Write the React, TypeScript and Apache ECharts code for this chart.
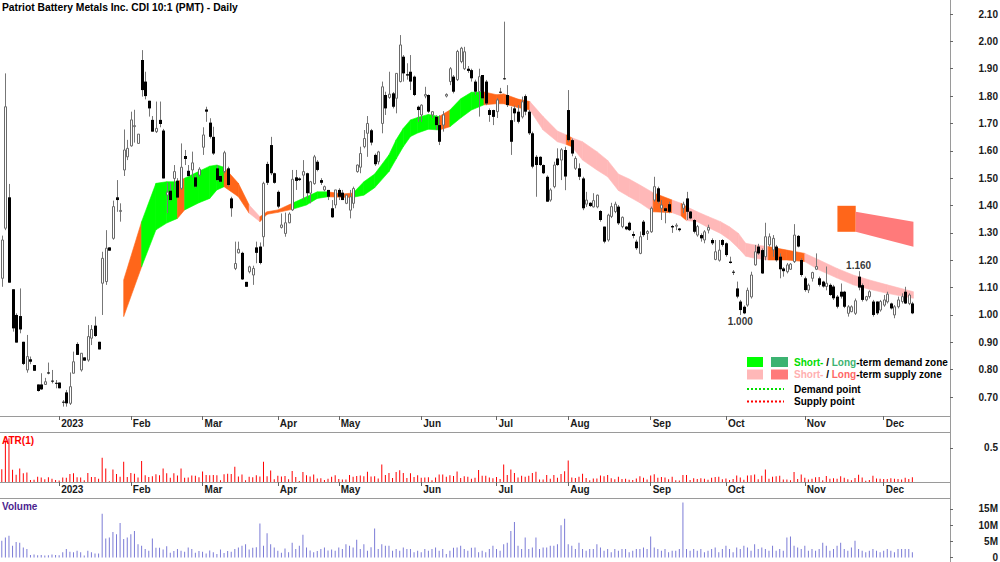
import React, { useEffect, useRef } from 'react';
import * as echarts from 'echarts';

const TITLE = 'Patriot Battery Metals Inc. CDI 10:1 (PMT) - Daily';
const FONT = "'Liberation Sans', Arial, Helvetica, sans-serif";

// daily candles: [open, high, low, close]
const candles: number[][] = [
  [1.134,1.29,1.103,1.274],[1.317,1.883,1.31,1.761],[1.43,1.479,1.118,1.118],[1.094,1.094,0.939,0.951],[1.0,1.006,0.899,0.899],
  [0.996,1.097,0.933,0.947],[0.902,0.902,0.817,0.821],[0.799,0.927,0.789,0.848],[0.838,0.848,0.82,0.829],[0.817,0.817,0.796,0.796],
  [0.746,0.746,0.72,0.722],[0.746,0.787,0.726,0.728],[0.746,0.77,0.744,0.756],[0.79,0.826,0.783,0.786],[0.76,0.799,0.75,0.757],
  [0.752,0.762,0.732,0.75],[0.753,0.753,0.732,0.732],[0.683,0.689,0.665,0.681],[0.717,0.726,0.665,0.677],[0.677,0.79,0.671,0.738],
  [0.787,0.866,0.787,0.829],[0.894,0.9,0.854,0.854],[0.799,0.86,0.793,0.86],[0.845,0.845,0.833,0.833],[0.835,0.963,0.829,0.921],
  [0.915,0.963,0.89,0.947],[0.961,0.994,0.92,0.923],[0.902,0.902,0.874,0.874],[1.116,1.231,1.0,1.207],[1.122,1.31,1.11,1.244],
  [1.247,1.247,1.235,1.235],[1.28,1.418,1.275,1.396],[1.43,1.493,1.377,1.42],[1.381,1.408,1.341,1.382],[1.53,1.678,1.508,1.603],
  [1.578,1.64,1.566,1.609],[1.618,1.743,1.615,1.713],[1.69,1.75,1.63,1.692],[1.627,1.661,1.627,1.661],[1.932,1.968,1.798,1.822],
  [1.853,1.889,1.788,1.8],[1.783,1.783,1.725,1.755],[1.713,1.727,1.67,1.67],[1.67,1.78,1.665,1.682],[1.713,1.78,1.686,1.698],
  [1.674,1.68,1.499,1.499],[1.438,1.484,1.372,1.449],[1.454,1.481,1.418,1.42],[1.499,1.548,1.457,1.524],[1.491,1.5,1.427,1.429],
  [1.463,1.627,1.457,1.54],[1.581,1.603,1.548,1.57],[1.527,1.548,1.505,1.508],[1.53,1.597,1.503,1.556],[1.503,1.51,1.465,1.469],
  [1.511,1.54,1.505,1.533],[1.613,1.686,1.585,1.658],[1.751,1.761,1.706,1.743],[1.703,1.719,1.645,1.651],[1.651,1.688,1.585,1.59],
  [1.536,1.548,1.49,1.493],[1.508,1.51,1.485,1.487],[1.524,1.6,1.518,1.593],[1.536,1.542,1.47,1.475],[1.426,1.432,1.359,1.39],
  [1.17,1.268,1.164,1.188],[1.227,1.268,1.225,1.24],[1.227,1.231,1.128,1.13],[1.121,1.121,1.103,1.103],[1.158,1.18,1.152,1.176],
  [1.146,1.18,1.11,1.17],[1.247,1.268,1.189,1.227],[1.25,1.265,1.185,1.19],[1.286,1.487,1.25,1.481],[1.552,1.56,1.475,1.483],
  [1.621,1.651,1.511,1.518],[1.518,1.52,1.48,1.483],[1.45,1.455,1.39,1.396],[1.32,1.371,1.316,1.329],[1.298,1.374,1.286,1.337],
  [1.337,1.375,1.335,1.369],[1.384,1.53,1.38,1.496],[1.503,1.53,1.457,1.49],[1.499,1.503,1.49,1.493],[1.511,1.566,1.42,1.524],
  [1.518,1.52,1.426,1.445],[1.445,1.49,1.408,1.487],[1.48,1.585,1.476,1.578],[1.56,1.566,1.525,1.53],[1.493,1.5,1.475,1.483],
  [1.457,1.473,1.452,1.469],[1.457,1.457,1.42,1.432],[1.39,1.42,1.355,1.357],[1.402,1.457,1.39,1.457],[1.457,1.463,1.42,1.432],
  [1.447,1.457,1.42,1.42],[1.408,1.44,1.405,1.438],[1.383,1.457,1.353,1.432],[1.408,1.469,1.39,1.462],[1.524,1.55,1.52,1.548],
  [1.54,1.615,1.518,1.59],[1.615,1.676,1.609,1.645],[1.664,1.727,1.578,1.7],[1.675,1.68,1.62,1.63],[1.585,1.59,1.545,1.551],
  [1.56,1.6,1.55,1.596],[1.7,1.853,1.664,1.834],[1.804,1.816,1.731,1.755],[1.795,1.889,1.79,1.807],[1.81,1.815,1.755,1.761],
  [1.792,1.883,1.737,1.883],[1.853,2.023,1.85,1.987],[1.944,1.95,1.853,1.883],[1.88,1.92,1.86,1.875],[1.889,1.95,1.822,1.853],
  [1.871,1.875,1.8,1.804],[1.761,1.765,1.706,1.749],[1.731,1.77,1.706,1.767],[1.8,1.834,1.792,1.806],[1.804,1.806,1.738,1.743],
  [1.731,1.745,1.72,1.743],[1.724,1.73,1.676,1.694],[1.694,1.73,1.621,1.633],[1.694,1.745,1.67,1.731],[1.8,1.81,1.795,1.806],
  [1.853,1.906,1.84,1.9],[1.871,1.877,1.81,1.816],[1.86,1.969,1.855,1.963],[1.926,1.98,1.92,1.975],[1.9,1.98,1.895,1.962],
  [1.9,1.91,1.885,1.892],[1.895,1.9,1.853,1.865],[1.853,1.86,1.804,1.816],[1.816,1.9,1.725,1.871],[1.877,1.877,1.786,1.792],
  [1.853,1.859,1.767,1.773],[1.749,1.755,1.706,1.731],[1.749,1.75,1.694,1.724],[1.743,1.792,1.72,1.786],[1.816,1.83,1.81,1.813],
  [1.865,2.072,1.86,1.863],[1.804,1.84,1.76,1.767],[1.712,1.761,1.585,1.633],[1.755,1.765,1.706,1.737],[1.743,1.767,1.7,1.706],
  [1.724,1.798,1.718,1.779],[1.8,1.806,1.73,1.743],[1.743,1.749,1.658,1.664],[1.664,1.67,1.536,1.542],[1.578,1.584,1.432,1.548],
  [1.578,1.58,1.545,1.548],[1.548,1.55,1.515,1.518],[1.505,1.51,1.414,1.414],[1.42,1.463,1.414,1.457],[1.469,1.56,1.463,1.548],
  [1.572,1.609,1.545,1.548],[1.566,1.61,1.493,1.604],[1.603,1.615,1.456,1.506],[1.749,1.822,1.633,1.639],[1.639,1.645,1.58,1.59],
  [1.536,1.58,1.53,1.572],[1.536,1.554,1.493,1.505],[1.499,1.505,1.383,1.39],[1.405,1.45,1.395,1.42],[1.41,1.412,1.395,1.398],
  [1.395,1.445,1.393,1.418],[1.395,1.44,1.39,1.438],[1.38,1.383,1.341,1.347],[1.323,1.323,1.262,1.268],[1.274,1.37,1.268,1.365],
  [1.36,1.41,1.354,1.396],[1.378,1.414,1.372,1.405],[1.396,1.402,1.329,1.335],[1.323,1.36,1.317,1.357],[1.323,1.325,1.31,1.313],
  [1.337,1.341,1.307,1.31],[1.296,1.305,1.28,1.289],[1.268,1.275,1.238,1.244],[1.225,1.305,1.222,1.286],[1.341,1.347,1.286,1.292],
  [1.298,1.31,1.274,1.305],[1.304,1.396,1.3,1.39],[1.42,1.505,1.414,1.469],[1.463,1.469,1.408,1.414],[1.39,1.42,1.347,1.402],
  [1.39,1.393,1.335,1.38],[1.405,1.414,1.372,1.377],[1.325,1.329,1.3,1.32],[1.327,1.335,1.31,1.328],[1.316,1.318,1.305,1.31],
  [1.39,1.414,1.372,1.405],[1.426,1.45,1.347,1.377],[1.378,1.38,1.35,1.353],[1.347,1.35,1.298,1.304],[1.292,1.329,1.286,1.323],
  [1.292,1.298,1.268,1.28],[1.274,1.31,1.262,1.304],[1.31,1.33,1.298,1.32],[1.274,1.28,1.256,1.262],[1.203,1.274,1.2,1.231],
  [1.2,1.274,1.195,1.237],[1.274,1.277,1.25,1.256],[1.262,1.265,1.213,1.219],[1.195,1.213,1.188,1.19],[1.158,1.164,1.146,1.155],
  [1.097,1.122,1.061,1.067],[1.049,1.055,1.0,1.018],[1.03,1.035,1.003,1.006],[1.036,1.1,1.03,1.09],[1.066,1.158,1.06,1.146],
  [1.183,1.256,1.18,1.231],[1.25,1.26,1.22,1.225],[1.237,1.243,1.15,1.152],[1.213,1.337,1.2,1.286],[1.256,1.298,1.25,1.286],
  [1.238,1.292,1.213,1.28],[1.25,1.256,1.195,1.2],[1.213,1.225,1.134,1.167],[1.17,1.175,1.14,1.16],[1.158,1.19,1.152,1.183],
  [1.167,1.19,1.165,1.186],[1.195,1.332,1.19,1.292],[1.289,1.292,1.247,1.25],[1.201,1.207,1.14,1.146],[1.134,1.14,1.085,1.091],
  [1.091,1.115,1.08,1.109],[1.134,1.158,1.122,1.155],[1.167,1.225,1.164,1.177],[1.134,1.14,1.104,1.11],[1.122,1.125,1.1,1.104],
  [1.104,1.177,1.09,1.116],[1.11,1.115,1.07,1.073],[1.104,1.11,1.055,1.061],[1.067,1.073,1.024,1.03],[1.085,1.115,1.06,1.067],
  [1.085,1.088,1.025,1.03],[1.006,1.036,0.994,1.03],[1.012,1.035,1.01,1.03],[1.006,1.06,1.0,1.052],[1.14,1.16,1.09,1.1],
  [1.109,1.115,1.049,1.055],[1.055,1.07,1.05,1.067],[1.067,1.09,1.06,1.085],[1.049,1.055,0.994,1.0],[1.049,1.05,1.0,1.006],
  [1.018,1.055,1.012,1.049],[1.036,1.073,1.03,1.055],[1.048,1.085,1.042,1.076],[1.042,1.045,1.02,1.024],[1.0,1.036,0.988,1.03],
  [1.03,1.067,1.024,1.055],[1.049,1.079,1.042,1.067],[1.085,1.103,1.04,1.042],[1.042,1.079,1.036,1.073],[1.042,1.048,1.003,1.006],
];

// daily volume, millions of shares
const volumeM: number[] = [
  5.2,6.2,6.7,3.6,4.8,4.6,3.1,2.6,0.8,0.9,0.7,0.8,0.6,0.7,0.9,0.8,
  0.7,1.6,2.6,1.8,1.6,2.1,1.6,0.6,2.1,1.6,1.2,1.2,
  13.5,5.9,6.2,7.9,7.2,10.7,5.7,6.2,7.2,8.2,4.1,3.6,2.6,
  2.1,5.9,3,3,2.5,3.5,1.5,2,2.6,2.1,1.8,3.1,2.6,1.5,2,1.8,1.2,2.2,1.6,1.1,
  2.5,1.4,2,1.8,2.6,3.1,3.6,4.1,2.5,3,3.2,10.5,3.6,7.5,4.1,3.1,2.1,1.5,2.8,1.6,
  4.6,2.6,3.6,7,3.1,2.2,1.6,2,2.6,3.1,2.2,2.5,2.1,3.1,2.6,4.1,3.6,3.1,5.5,2.6,
  4.1,2.1,3.2,9,2.6,4.1,3.6,3.6,2.1,2.6,2.1,3.1,2.6,2.6,1.6,2.1,1.6,2.6,2.1,2.6,
  3.1,2.1,2.6,1.1,2.1,3,3.1,3.6,2.6,2.1,3,3.1,1.6,2.1,1.6,2.6,3.6,2.6,2.1,4.1,
  4.6,8.2,11,3.6,2.6,6.2,2.6,3.1,6.2,2.6,3.1,3.1,3.6,3.6,4.1,10,12,4.1,3.6,2.6,
  4.6,2.6,2.1,2.6,2.6,4.1,3.1,2.1,2.6,1.6,2.6,2.1,2.6,2.6,1.6,2.1,2.6,2.6,3.1,2.6,
  6.5,3.1,2.6,2.1,2.6,1.6,2.1,2.1,2.6,17,2.6,2.1,2.6,2.1,2.6,1.6,2.1,2.6,3.1,1.6,
  2.6,3.6,2.6,1.6,3.1,2.6,3.6,3.1,2.1,4.1,2.6,3.1,2.6,2.1,3.6,2.1,2.6,2.1,6.2,6.5,
  3.6,3.1,2.6,3.6,2.1,2.6,2.1,2.6,4.6,3.6,2.1,2.6,3.6,4.6,2.6,2.1,3.1,5.2,2.6,2.1,
  1.6,2.1,2.6,2.1,1.6,2.1,2.6,2.1,1.6,2.6,2.6,2.6,2.6,1.6,
];

const monthTickIndex = [16, 36, 56, 77, 94, 117, 138, 158, 181, 202, 224, 246];
const monthTickLabel = ['2023', 'Feb', 'Mar', 'Apr', 'May', 'Jun', 'Jul', 'Aug', 'Sep', 'Oct', 'Nov', 'Dec'];
const priceTicks = [0.7, 0.8, 0.9, 1.0, 1.1, 1.2, 1.3, 1.4, 1.5, 1.6, 1.7, 1.8, 1.9, 2.0, 2.1];
const atrTicks = [0.5];
const volumeTicks = [0, 5, 10, 15];

// zone band: [index, lower, upper, kind of the following segment]
// G = short-term demand, O = orange transition, P = short-term supply
const zoneBand: (number | string)[][] = [
  [34, 0.994, 1.128, 'O'], [39, 1.176, 1.341, 'G'], [43, 1.311, 1.481, 'G'], [46, 1.336, 1.487, 'G'],
  [49, 1.353, 1.487, 'O'], [51, 1.384, 1.5, 'G'], [55, 1.41, 1.525, 'G'], [58, 1.426, 1.544, 'G'],
  [60, 1.457, 1.548, 'G'], [62, 1.469, 1.54, 'O'], [66, 1.432, 1.481, 'O'], [69, 1.372, 1.402, 'P'],
  [72, 1.341, 1.359, 'O'], [74, 1.368, 1.377, 'O'], [77, 1.375, 1.384, 'O'], [81, 1.386, 1.408, 'G'],
  [85, 1.402, 1.432, 'G'], [88, 1.426, 1.45, 'G'], [91, 1.432, 1.45, 'O'], [95, 1.43, 1.442, 'O'],
  [98, 1.43, 1.446, 'G'], [101, 1.438, 1.487, 'G'], [104, 1.465, 1.515, 'G'], [108, 1.524, 1.585, 'G'],
  [110, 1.57, 1.64, 'G'], [112, 1.615, 1.682, 'G'], [114, 1.652, 1.713, 'G'], [116, 1.665, 1.722, 'G'],
  [119, 1.679, 1.733, 'G'], [122, 1.676, 1.725, 'O'], [125, 1.688, 1.749, 'G'], [128, 1.72, 1.79, 'G'],
  [131, 1.749, 1.814, 'G'], [134.5, 1.768, 1.815, 'O'], [138, 1.772, 1.805, 'O'], [140, 1.772, 1.808, 'O'],
  [144, 1.758, 1.789, 'O'], [147.3, 1.749, 1.78, 'P'], [151, 1.676, 1.725, 'P'], [155, 1.633, 1.672, 'P'],
  [157.5, 1.623, 1.658, 'O'], [159, 1.615, 1.648, 'P'], [162, 1.566, 1.633, 'P'], [166, 1.53, 1.597, 'P'],
  [169, 1.505, 1.565, 'P'], [172, 1.455, 1.515, 'P'], [175, 1.432, 1.497, 'P'], [178, 1.41, 1.475, 'P'],
  [181.7, 1.377, 1.447, 'O'], [187, 1.374, 1.42, 'P'], [189.5, 1.362, 1.408, 'O'], [191, 1.345, 1.396, 'P'],
  [194, 1.341, 1.377, 'P'], [197, 1.32, 1.36, 'P'], [200.5, 1.298, 1.341, 'P'], [203, 1.275, 1.322, 'P'],
  [205.5, 1.244, 1.298, 'P'], [207.5, 1.215, 1.262, 'P'], [210, 1.207, 1.256, 'P'], [213.8, 1.201, 1.25, 'O'],
  [219, 1.201, 1.237, 'O'], [224, 1.195, 1.225, 'P'], [228, 1.164, 1.201, 'P'], [233, 1.135, 1.17, 'P'],
  [237.5, 1.11, 1.146, 'P'], [242, 1.094, 1.128, 'P'], [247, 1.079, 1.11, 'P'], [254.3, 1.061, 1.085, 'P'],
];

// projected long-term supply zone (index, price corners)
const projectedOrange = [[233.1, 1.399], [238.2, 1.399], [238.2, 1.304], [233.1, 1.304]];
const projectedSupply = [[238.2, 1.377], [254.3, 1.341], [254.3, 1.249], [238.2, 1.304]];

const swingLabels = [
  { i: 206, v: 1.0, text: '1.000', pos: 'bottom' },
  { i: 239, v: 1.16, text: '1.160', pos: 'top' },
];

const ZONE_COLORS: Record<string, string> = { G: '#00ff00', O: '#ff661a', P: '#ffb8b8' };

function buildOption(): any {
  const atr = candles.map((d, k) => {
    const pc = k > 0 ? candles[k - 1][3] : d[3];
    return Math.max(d[1], pc) - Math.min(d[2], pc);
  });
  const labelStyle = { fontFamily: FONT, fontWeight: 'bold', fontSize: 10, color: '#1a1a1a' };
  const axisGray = '#9a9a9a';
  const xBase = {
    type: 'value', min: -0.5, max: 264.5, splitLine: { show: false },
  };
  const monthFmt = (v: number) => {
    const k = monthTickIndex.indexOf(Math.round(v));
    return k >= 0 ? monthTickLabel[k] : '';
  };
  const grids = [
    { left: 0, right: 50, top: 0, height: 416 },
    { left: 0, right: 50, top: 432, height: 50 },
    { left: 0, right: 50, top: 498, height: 59.5 },
  ].map((g) => ({ ...g, containLabel: false, outerBoundsMode: 'none' }));

  const yBase = (grid: number, min: number, max: number, ticks: number[], fmt: (v: number) => string) => ({
    type: 'value', gridIndex: grid, position: 'right', min, max, splitLine: { show: false },
    axisLine: { show: false, onZero: false },
    axisTick: { show: true, inside: false, customValues: ticks, length: 3, lineStyle: { color: '#666' } },
    axisLabel: { ...labelStyle, customValues: ticks, formatter: fmt, align: 'right', margin: 48 },
  });

  return {
    animation: false,
    backgroundColor: '#ffffff',
    title: {
      text: TITLE, left: 2, top: 2, padding: 0,
      textStyle: { fontFamily: FONT, fontWeight: 'bold', fontSize: 10.3, color: '#000' },
    },
    grid: grids,
    xAxis: [
      {
        ...xBase, gridIndex: 0, position: 'bottom',
        axisLine: { show: true, onZero: false, lineStyle: { color: axisGray } },
        axisTick: { show: true, customValues: monthTickIndex, length: 4, lineStyle: { color: '#666' } },
        axisLabel: { ...labelStyle, customValues: monthTickIndex, formatter: monthFmt, align: 'left', margin: 2, padding: [0, 0, 0, 2] },
      },
      {
        ...xBase, gridIndex: 1, position: 'bottom',
        axisLine: { show: true, onZero: false, lineStyle: { color: axisGray } },
        axisTick: { show: true, customValues: monthTickIndex, length: 4, lineStyle: { color: '#666' } },
        axisLabel: { ...labelStyle, customValues: monthTickIndex, formatter: monthFmt, align: 'left', margin: 2, padding: [0, 0, 0, 2] },
      },
      {
        ...xBase, gridIndex: 2, position: 'bottom',
        axisLine: { show: false, onZero: false }, axisTick: { show: false }, axisLabel: { show: false },
      },
    ],
    yAxis: [
      yBase(0, 0.6307, 2.1512, priceTicks, (v) => v.toFixed(2)),
      yBase(1, 0, 0.735, atrTicks, (v) => String(v)),
      yBase(2, 0, 18.4, volumeTicks, (v) => (v === 0 ? '0' : v + 'M')),
    ],
    series: [
      {
        type: 'custom', name: 'zone', xAxisIndex: 0, yAxisIndex: 0, z: 1, silent: true,
        data: zoneBand.slice(0, -1).map((p, k) => [p[0], p[1], p[2], k]),
        encode: { x: 0, y: [1, 2] },
        renderItem: (params: any, api: any) => {
          const k = api.value(3);
          const a = zoneBand[k] as any[];
          const b = zoneBand[k + 1] as any[];
          const col = ZONE_COLORS[a[3]];
          const pts = [api.coord([a[0], a[1]]), api.coord([b[0], b[1]]), api.coord([b[0], b[2]]), api.coord([a[0], a[2]])];
          return { type: 'polygon', shape: { points: pts }, style: { fill: col, stroke: col, lineWidth: 0.6 } };
        },
      },
      {
        type: 'custom', name: 'projection', xAxisIndex: 0, yAxisIndex: 0, z: 1, silent: true,
        data: [[0, projectedOrange[0][0], projectedOrange[0][1]], [1, projectedSupply[0][0], projectedSupply[0][1]]],
        encode: { x: 1, y: 2 },
        renderItem: (params: any, api: any) => {
          const k = api.value(0);
          const poly = k === 0 ? projectedOrange : projectedSupply;
          const col = k === 0 ? '#ff661a' : '#ff7a7a';
          return { type: 'polygon', shape: { points: poly.map((p) => api.coord(p)) }, style: { fill: col } };
        },
      },
      {
        type: 'custom', name: 'price', xAxisIndex: 0, yAxisIndex: 0, z: 3, silent: true,
        data: candles.map((d, i) => [i, d[0], d[1], d[2], d[3]]),
        encode: { x: 0, y: [1, 2, 3, 4] },
        renderItem: (params: any, api: any) => {
          const i = api.value(0);
          const o = api.value(1), h = api.value(2), l = api.value(3), c = api.value(4);
          const pO = api.coord([i, o]);
          const pC = api.coord([i, c]);
          const pH = api.coord([i, h]);
          const pL = api.coord([i, l]);
          const x = Math.round(pO[0]) + 0.5;
          const top = Math.min(pO[1], pC[1]);
          const bodyH = Math.max(Math.abs(pO[1] - pC[1]), 1);
          const up = c >= o;
          return {
            type: 'group',
            children: [
              { type: 'line', shape: { x1: x, y1: pH[1], x2: x, y2: pL[1] }, style: { stroke: '#777', lineWidth: 1 } },
              up
                ? { type: 'rect', shape: { x: x - 1, y: top, width: 2, height: bodyH }, style: { fill: '#fff', stroke: '#6a6a6a', lineWidth: 1 } }
                : { type: 'rect', shape: { x: x - 1.5, y: top, width: 3, height: bodyH }, style: { fill: '#000' } },
            ],
          };
        },
      },
      {
        type: 'scatter', name: 'swings', xAxisIndex: 0, yAxisIndex: 0, z: 4, symbolSize: 0, silent: true,
        data: swingLabels.map((s) => ({
          value: [s.i, s.v],
          label: { show: true, position: s.pos, distance: s.pos === 'top' ? 1 : 2, formatter: s.text, ...labelStyle, color: '#000' },
        })),
      },
      {
        type: 'bar', name: 'ATR(1)', xAxisIndex: 1, yAxisIndex: 1, barWidth: 1, silent: true,
        itemStyle: { color: '#ff0000' },
        data: atr.map((v, i) => [i, v]),
      },
      {
        type: 'bar', name: 'Volume', xAxisIndex: 2, yAxisIndex: 2, barWidth: 1, silent: true,
        itemStyle: { color: '#7b7bd6' },
        data: volumeM.map((v, i) => [i, v]),
      },
    ],
    graphic: [
      { type: 'line', silent: true, shape: { x1: 0, y1: 432.5, x2: 950, y2: 432.5 }, style: { stroke: axisGray, lineWidth: 1 } },
      { type: 'line', silent: true, shape: { x1: 0, y1: 498.5, x2: 950, y2: 498.5 }, style: { stroke: axisGray, lineWidth: 1 } },
      { type: 'line', silent: true, shape: { x1: 950.5, y1: 0, x2: 950.5, y2: 562 }, style: { stroke: axisGray, lineWidth: 1 } },
      { type: 'text', silent: true, x: 2, y: 435, style: { text: 'ATR(1)', fill: '#ff0000', fontFamily: FONT, fontWeight: 'bold', fontSize: 10 } },
      { type: 'text', silent: true, x: 2, y: 501, style: { text: 'Volume', fill: '#4b1f8f', fontFamily: FONT, fontWeight: 'bold', fontSize: 10 } },
      { type: 'rect', silent: true, shape: { x: 747, y: 357, width: 16, height: 10 }, style: { fill: '#00ff00' } },
      { type: 'rect', silent: true, shape: { x: 771, y: 357, width: 17, height: 10 }, style: { fill: '#3cb371' } },
      { type: 'rect', silent: true, shape: { x: 747, y: 369.5, width: 16, height: 10 }, style: { fill: '#ffb8b8' } },
      { type: 'rect', silent: true, shape: { x: 771, y: 369.5, width: 17, height: 10 }, style: { fill: '#ff7a7a' } },
      {
        type: 'text', silent: true, x: 794, y: 362,
        style: {
          text: '{a|Short-}{k| / }{b|Long}{k|-term demand zone}', verticalAlign: 'middle',
          fontFamily: FONT, fontWeight: 'bold', fontSize: 10,
          rich: {
            a: { fill: '#00dd00', fontFamily: FONT, fontWeight: 'bold', fontSize: 10 },
            b: { fill: '#3cb371', fontFamily: FONT, fontWeight: 'bold', fontSize: 10 },
            k: { fill: '#000', fontFamily: FONT, fontWeight: 'bold', fontSize: 10 },
          },
        },
      },
      {
        type: 'text', silent: true, x: 794, y: 374.5,
        style: {
          text: '{a|Short-}{k| / }{b|Long}{k|-term supply zone}', verticalAlign: 'middle',
          fontFamily: FONT, fontWeight: 'bold', fontSize: 10,
          rich: {
            a: { fill: '#ffb0b0', fontFamily: FONT, fontWeight: 'bold', fontSize: 10 },
            b: { fill: '#ff6666', fontFamily: FONT, fontWeight: 'bold', fontSize: 10 },
            k: { fill: '#000', fontFamily: FONT, fontWeight: 'bold', fontSize: 10 },
          },
        },
      },
      { type: 'line', silent: true, shape: { x1: 747, y1: 389, x2: 784, y2: 389 }, style: { stroke: '#00dd00', lineWidth: 2, lineDash: [2, 2] } },
      { type: 'line', silent: true, shape: { x1: 747, y1: 401.5, x2: 784, y2: 401.5 }, style: { stroke: '#ff0000', lineWidth: 2, lineDash: [2, 2] } },
      { type: 'text', silent: true, x: 794, y: 389, style: { text: 'Demand point', verticalAlign: 'middle', fill: '#000', fontFamily: FONT, fontWeight: 'bold', fontSize: 10 } },
      { type: 'text', silent: true, x: 794, y: 401.5, style: { text: 'Supply point', verticalAlign: 'middle', fill: '#000', fontFamily: FONT, fontWeight: 'bold', fontSize: 10 } },
    ],
  };
}

export default function App() {
  const ref = useRef<HTMLDivElement>(null);
  useEffect(() => {
    if (!ref.current) return;
    const chart = echarts.init(ref.current, null, { renderer: 'svg' });
    chart.setOption(buildOption());
    return () => chart.dispose();
  }, []);
  return (
    <div
      ref={ref}
      style={{ position: 'absolute', left: 0, top: 0, width: 1000, height: 562, background: '#fff' }}
    />
  );
}
